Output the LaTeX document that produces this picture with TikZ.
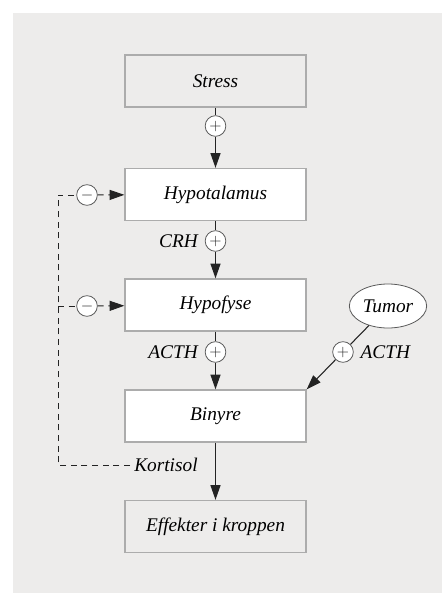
\documentclass[tikz,border=0pt]{standalone}
\usepackage{fontspec}
\setmainfont{Liberation Serif}
\usetikzlibrary{arrows.meta,shapes.geometric,positioning}

\definecolor{bggray}{RGB}{237,236,235}
\definecolor{boxline}{RGB}{172,172,172}
\definecolor{linedark}{RGB}{35,35,35}

\tikzset{
 organ/.style={draw=boxline, line width=1pt, minimum width=135.75pt, minimum height=39pt, inner sep=0pt, font=\fontsize{14.5}{16}\selectfont\itshape},
 frame/.style={organ, fill=bggray},
 gland/.style={organ, fill=white},
 sign/.style={circle, draw=linedark!75, fill=white, line width=0.6pt, minimum size=15.5pt, inner sep=0pt, text=linedark, font=\fontsize{13}{13}\selectfont},
 hormone/.style={font=\fontsize{14.5}{16}\selectfont\itshape, inner sep=3pt},
 drive/.style={draw=linedark, line width=0.8pt},
 headed/.style={-{Triangle[length=11pt,width=7.5pt]}},
 feedback/.style={drive, line width=0.7pt, dash pattern=on 4.5pt off 3.5pt},
}

\begin{document}
\begin{tikzpicture}[x=0.75pt,y=-0.75pt]

 \useasboundingbox (0,0) rectangle (442,593);
 \fill[bggray] (13,13) rectangle (442,593); % grey panel

% main chain
 \node[frame] (stress) at (215.5,81) {Stress};
 \node[gland] (hypotal) at (215.5,194.5) {Hypotalamus};
 \node[gland] (hypofyse) at (215.5,305) {Hypofyse};
 \node[gland] (binyre) at (215.5,416) {Binyre};
 \node[frame] (effekter) at (215.5,526.5) {Effekter i kroppen};

 \node[sign] (plusA) at (215.5,126) {$+$};
 \node[sign] (plusB) at (215.5,241) {$+$};
 \node[sign] (plusC) at (215.5,352) {$+$};
 \node[hormone, left=2pt of plusB] (crh) {CRH};
 \node[hormone, left=2pt of plusC] (acth) {ACTH};

 \draw[drive] (stress) -- (plusA);
 \draw[drive,headed] (plusA) -- (hypotal);
 \draw[drive] (hypotal) -- (plusB);
 \draw[drive,headed] (plusB) -- (hypofyse);
 \draw[drive] (hypofyse) -- (plusC);
 \draw[drive,headed] (plusC) -- (binyre);
 \draw[drive,headed] (binyre) -- (effekter);

% tumour side path
 \node[ellipse, draw=linedark!75, fill=white, line width=0.6pt, minimum width=58pt, minimum height=33pt, inner sep=0pt, font=\fontsize{14.5}{16}\selectfont\itshape] (tumor) at (388,306) {Tumor};
 \node[sign] (plusD) at (343,352) {$+$};
 \node[hormone, right=2pt of plusD] (tumacth) {ACTH};
 \draw[drive] (tumor) -- (plusD);
 \draw[drive,headed] (plusD) -- (binyre.north east);

% negative feedback from cortisol
 \node[hormone, anchor=west] (kortisol) at (130,465) {Kortisol};
 \node[sign] (minusA) at (87,195) {$-$};
 \node[sign] (minusB) at (87,306) {$-$};
 \coordinate (fbtop) at (58,195);
 \coordinate (fbmid) at (58,306);
 \coordinate (fbcorner) at (58,465);

 \draw[feedback] (kortisol.west) -- (fbcorner) -- (fbtop) -- (minusA);
 \draw[feedback,headed] (minusA) -- (hypotal);
 \draw[feedback] (fbmid) -- (minusB);
 \draw[feedback,headed] (minusB) -- (hypofyse);

\end{tikzpicture}
\end{document}
